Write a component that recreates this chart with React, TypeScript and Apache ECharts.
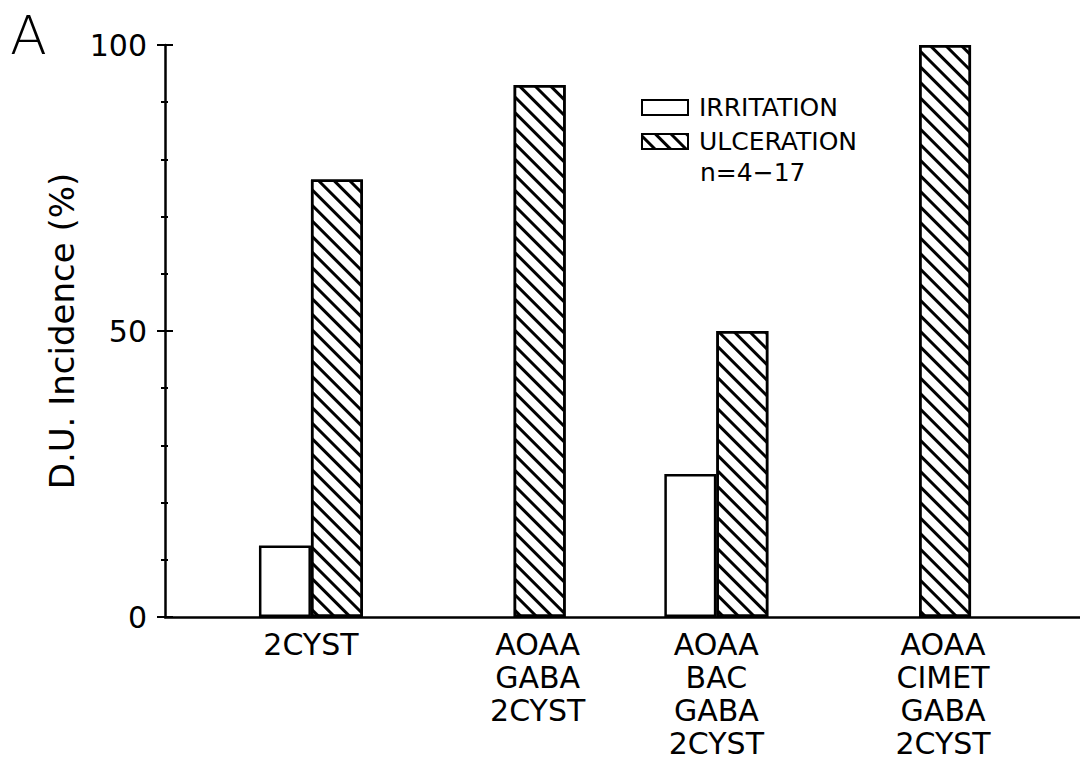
import React, { useEffect, useRef } from "react";
import * as echarts from "echarts";

const categories = ["2CYST", "AOAA\nGABA\n2CYST", "AOAA\nBAC\nGABA\n2CYST", "AOAA\nCIMET\nGABA\n2CYST"];
const irritation: (number | null)[] = [12.5, null, 25, null];
const ulceration: (number | null)[] = [76.5, 93, 50, 100];
const yTicks = [0, 50, 100];

const FONT = "DejaVu Sans";

export default function App() {
  const ref = useRef<HTMLDivElement>(null);
  useEffect(() => {
    if (!ref.current) return;
    const chart = echarts.init(ref.current, null, { renderer: "svg" });
    const positions = categories.map((_, i) => i + 1);
    const labelFor = (v: number) => {
      const i = Math.round(v) - 1;
      const c = categories[i];
      if (c === undefined) return "";
      const style = irritation[i] == null ? "s" : "c";
      return c.split("\n").map((l) => `{${style}|${l}}`).join("\n");
    };
    const labelRich = {
      c: { fontSize: 30, fontFamily: FONT, color: "#000", lineHeight: 33 },
      s: { fontSize: 30, fontFamily: FONT, color: "#000", lineHeight: 33, padding: [0, 0, 0, 48] },
    };
    const hatch = {
      symbol: "rect",
      symbolSize: 1,
      color: "#000",
      backgroundColor: "#fff",
      dashArrayX: [1, 0],
      dashArrayY: [3, 8],
      rotation: Math.PI / 4,
    };
    chart.setOption({
      animation: false,
      backgroundColor: "#fff",
      grid: { left: 165, right: 0, top: 45, bottom: 150, containLabel: false },
      legend: {
        orient: "vertical",
        left: 636,
        top: 90,
        itemWidth: 46,
        itemHeight: 15,
        itemGap: 9,
        icon: "rect",
        textStyle: { fontSize: 25, fontFamily: FONT, color: "#000", padding: [0, 0, 0, 6] },
        data: ["IRRITATION", "ULCERATION"],
      },
      xAxis: {
        type: "value",
        min: 0.28,
        max: 4.794,
        axisLine: { show: true, onZero: false, lineStyle: { color: "#000", width: 2.5 } },
        axisTick: { show: false },
        splitLine: { show: false },
        axisLabel: {
          customValues: positions,
          formatter: (v: number) => labelFor(v),
          rich: labelRich,
          margin: 11,
          verticalAlign: "top",
          color: "#000",
        },
      },
      yAxis: [
        {
          type: "value",
          min: yTicks[0],
          max: yTicks[yTicks.length - 1],
          interval: 50,
          name: "D.U. Incidence (%)",
          nameLocation: "middle",
          nameGap: 82,
          nameTextStyle: { fontSize: 34, fontFamily: FONT, color: "#000" },
          axisLine: { show: true, lineStyle: { color: "#000", width: 2.5 } },
          axisTick: { show: true, length: 8, lineStyle: { color: "#000", width: 2 } },
          minorTick: { show: true, splitNumber: 5, length: 4, lineStyle: { color: "#000", width: 2 } },
          splitLine: { show: false },
          axisLabel: { fontSize: 30, fontFamily: FONT, color: "#000", margin: 18 },
        },
        {
          type: "value",
          position: "left",
          min: yTicks[0],
          max: yTicks[yTicks.length - 1],
          interval: 50,
          axisLine: { show: false },
          axisTick: { show: true, inside: true, length: 8, lineStyle: { color: "#000", width: 2 } },
          minorTick: { show: true, splitNumber: 5, length: 3, lineStyle: { color: "#000", width: 2 } },
          splitLine: { show: false },
          axisLabel: { show: false },
        },
      ],
      series: [
        {
          name: "IRRITATION",
          type: "bar",
          barWidth: 52,
          barGap: "0%",
          data: irritation.map((v, i) => [positions[i], v == null ? "-" : v]),
          itemStyle: { color: "#fff", borderColor: "#000", borderWidth: 2.5 },
        },
        {
          name: "ULCERATION",
          type: "bar",
          barWidth: 52,
          barGap: "0%",
          data: ulceration.map((v, i) => [positions[i], v == null ? "-" : v]),
          itemStyle: { color: "#fff", borderColor: "#000", borderWidth: 2.5, decal: hatch },
        },
      ],
      graphic: [
        { type: "text", left: 10, top: 8, style: { text: "A", fontSize: 54, fontWeight: 200, fontFamily: FONT, fill: "#000" } },
        { type: "text", left: 700, top: 160, style: { text: "n=4\u221217", fontSize: 25, fontFamily: FONT, fill: "#000" } },
      ],
    });
    return () => chart.dispose();
  }, []);
  return <div ref={ref} style={{ position: "absolute", left: 0, top: 0, width: 1080, height: 767, background: "#fff" }} />;
}
